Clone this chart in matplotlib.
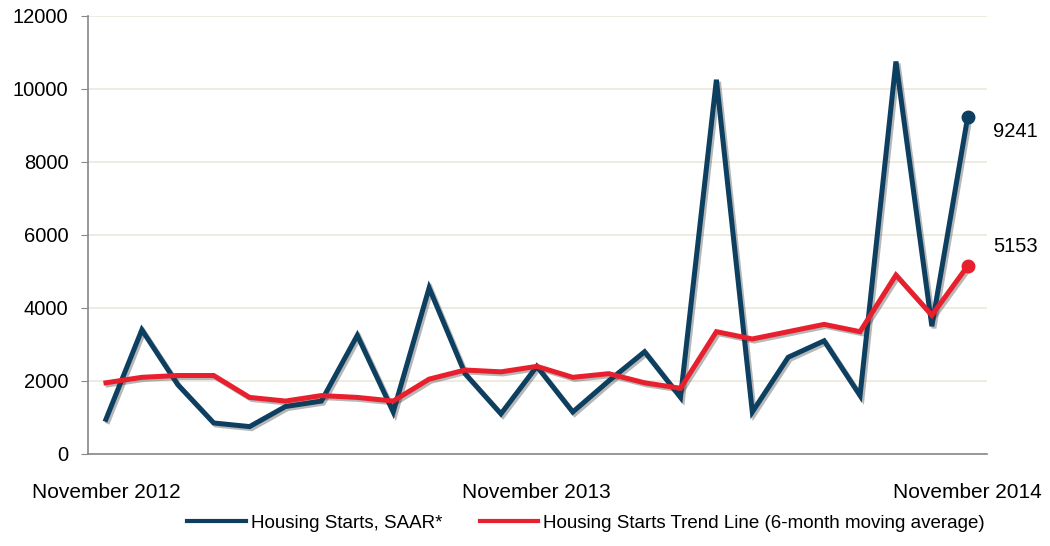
import matplotlib
matplotlib.use('Agg')
import matplotlib.pyplot as plt
import matplotlib.patheffects as pe

# values, Nov 2012 .. Nov 2014 (monthly)
starts = [950, 3400, 1900, 850, 750, 1300, 1450, 3250, 1150, 4550, 2200, 1100, 2400,
          1150, 2000, 2800, 1550, 10250, 1150, 2650, 3100, 1600, 10750, 3500, 9241]
trend = [1950, 2100, 2150, 2150, 1550, 1450, 1600, 1550, 1450, 2050, 2300, 2250, 2400,
         2100, 2200, 1950, 1800, 3350, 3150, 3350, 3550, 3350, 4900, 3800, 5153]
tick_pos = [0, 12, 24]
tick_labels = ['November 2012', 'November 2013', 'November 2014']
y_ticks = [0, 2000, 4000, 6000, 8000, 10000, 12000]

blue = '#0d3f60'
red = '#e8202e'

plt.rcParams['font.family'] = ['Liberation Sans', 'DejaVu Sans']

fig = plt.figure(figsize=(10.5, 5.46), dpi=100)
ax = fig.add_axes([0.0838, 0.1685, 0.856, 0.8025])

shadow = [pe.SimpleLineShadow(offset=(1.5, -1.5), alpha=0.35, shadow_color='#333333'), pe.Normal()]
x = list(range(len(starts)))
ax.plot(x, starts, color=blue, lw=3.6, path_effects=shadow, solid_joinstyle='miter', zorder=3)
ax.plot(x, trend, color=red, lw=3.6, path_effects=shadow, solid_joinstyle='miter', zorder=4)
ax.plot(x[-1], starts[-1], 'o', color=blue, ms=9, zorder=5)
ax.plot(x[-1], trend[-1], 'o', color=red, ms=9, zorder=5)
ax.annotate(str(starts[-1]), (x[-1], starts[-1]), xytext=(18, -11), textcoords='offset points',
            fontsize=14.5, va='center', ha='left', annotation_clip=False)
ax.annotate(str(trend[-1]), (x[-1], trend[-1]), xytext=(18, 14), textcoords='offset points',
            fontsize=14.5, va='center', ha='left', annotation_clip=False)

# legend handles without the shadow
ax.plot([], [], color=blue, lw=3, label='Housing Starts, SAAR*')
ax.plot([], [], color=red, lw=3, label='Housing Starts Trend Line (6-month moving average)')

ax.set_xlim(-0.5, 24.53)
ax.set_ylim(0, 12000)
ax.set_yticks(y_ticks)
ax.set_xticks(tick_pos)
ax.set_xticklabels(tick_labels, fontsize=15)
ax.tick_params(axis='x', length=0, pad=21)
ax.tick_params(axis='y', labelsize=14.5, length=5, color='#888888', pad=9)

ax.grid(axis='y', color='#ebe7da', lw=1.2)
ax.set_axisbelow(True)
for s in ['top', 'right']:
    ax.spines[s].set_visible(False)
ax.spines['left'].set_color('#888888')
ax.spines['bottom'].set_color('#888888')
ax.spines['left'].set_linewidth(1.2)
ax.spines['bottom'].set_linewidth(1.2)

fig.legend(loc='center', bbox_to_anchor=(0.558, 0.042), ncol=2, frameon=False, fontsize=13.5,
           handlelength=3.1, columnspacing=2.0, handletextpad=0.27)

fig.savefig('out.png', dpi=100)
